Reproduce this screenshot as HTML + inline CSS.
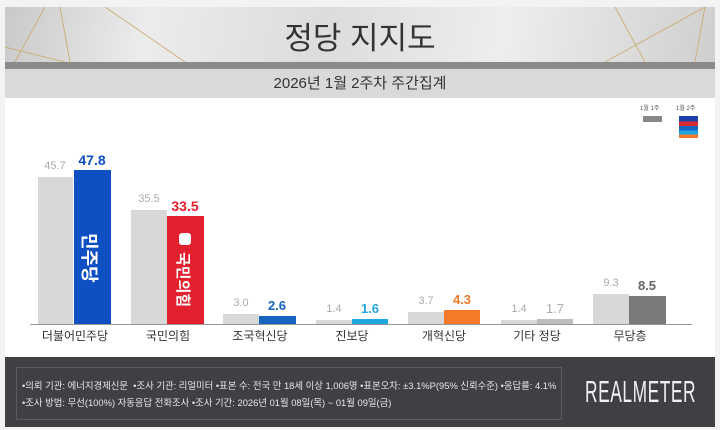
<!DOCTYPE html>
<html><head><meta charset="utf-8"><style>
body{margin:0;width:720px;height:430px;background:#f3f3f3;position:relative;overflow:hidden;font-family:"Liberation Sans","Noto Sans CJK KR",sans-serif}
.a{position:absolute}
.hdr{left:5px;top:7px;width:710px;height:55px;background:linear-gradient(100deg,#c9c9c9 0%,#ececec 20%,#dcdcdc 45%,#eeeeee 70%,#cfcfcf 100%);overflow:hidden}
.t{text-align:center}
.lbl{font-size:12px;color:#333;text-align:center;width:100px;top:327px}
.v{font-size:11px;text-align:center;width:40px}
.b{font-weight:bold;font-size:13px}
.rot{color:#fff;font-weight:bold;white-space:nowrap;transform-origin:0 0;transform:rotate(90deg)}
</style></head><body>
<div class="a" style="left:5px;top:62px;width:710px;height:295px;background:#fff"></div>
<div class="a hdr">
<svg width="710" height="55" style="position:absolute;left:0;top:0">
<g stroke="#c9a869" stroke-width="0.8" fill="none">
<line x1="10" y1="55" x2="40" y2="0"/><line x1="55" y1="0" x2="65" y2="55"/><line x1="0" y1="40" x2="60" y2="55"/>
<line x1="100" y1="0" x2="180" y2="55"/><line x1="610" y1="0" x2="640" y2="55"/><line x1="700" y1="0" x2="690" y2="55"/>
<line x1="600" y1="55" x2="700" y2="0"/>
</g></svg>
<div class="a t" style="left:0;width:710px;top:6px;font-size:31px;color:#333">정당 지지도</div>
</div>
<div class="a" style="left:5px;top:62px;width:710px;height:7px;background:#8a8a8a"></div>
<div class="a t" style="left:5px;top:69px;width:710px;height:29px;background:#d9d9d9;font-size:15px;line-height:29px;color:#333">2026년 1월 2주차 주간집계</div>

<div class="a" style="left:640px;top:103px;font-size:6px;color:#555">1월 1주</div>
<div class="a" style="left:676px;top:103px;font-size:6px;color:#555">1월 2주</div>
<div class="a" style="left:643px;top:116px;width:19px;height:6px;background:#888"></div>
<div class="a" style="left:679px;top:116px;width:19px;height:22px;background:linear-gradient(#1c3fa8 0 25%,#d92a33 25% 45%,#1565c0 45% 65%,#1ea6e0 65% 85%,#f47a2a 85%)"></div>

<div class="a" style="left:30px;top:324px;width:662px;height:1px;background:#999"></div>

<div class="a" style="left:38px;top:177px;width:35px;height:147px;background:#d8d8d8"></div>
<div class="a" style="left:74px;top:170px;width:37px;height:154px;background:#0f4fc4"></div>
<div class="a rot" style="left:103px;top:233px;font-size:18px">민주당</div>
<div class="a" style="left:131px;top:210px;width:36px;height:114px;background:#d8d8d8"></div>
<div class="a" style="left:167px;top:216px;width:37px;height:108px;background:#e3202d"></div>
<div class="a" style="left:179px;top:233px;width:12px;height:12px;background:#fff;border-radius:3px"></div>
<div class="a rot" style="left:194px;top:252px;font-size:15px">국민의힘</div>
<div class="a" style="left:223px;top:314px;width:36px;height:10px;background:#d8d8d8"></div>
<div class="a" style="left:259px;top:316px;width:37px;height:8px;background:#1565c0"></div>
<div class="a" style="left:316px;top:320px;width:36px;height:4px;background:#d8d8d8"></div>
<div class="a" style="left:352px;top:319px;width:36px;height:5px;background:#1ea6e0"></div>
<div class="a" style="left:408px;top:312px;width:36px;height:12px;background:#d8d8d8"></div>
<div class="a" style="left:444px;top:310px;width:36px;height:14px;background:#f47a2a"></div>
<div class="a" style="left:501px;top:320px;width:36px;height:4px;background:#d8d8d8"></div>
<div class="a" style="left:537px;top:319px;width:36px;height:5px;background:#bdbdbd"></div>
<div class="a" style="left:593px;top:294px;width:36px;height:30px;background:#d8d8d8"></div>
<div class="a" style="left:629px;top:296px;width:37px;height:28px;background:#7a7a7a"></div>

<div class="a v" style="left:35px;top:160px;color:#aaa">45.7</div>
<div class="a v b" style="left:72px;top:152px;color:#0f4fc4;font-size:14px">47.8</div>
<div class="a v" style="left:129px;top:193px;color:#aaa">35.5</div>
<div class="a v b" style="left:165px;top:198px;color:#e3202d;font-size:14px">33.5</div>
<div class="a v" style="left:221px;top:297px;color:#aaa">3.0</div>
<div class="a v b" style="left:257px;top:298px;color:#1565c0">2.6</div>
<div class="a v" style="left:314px;top:303px;color:#aaa">1.4</div>
<div class="a v b" style="left:350px;top:301px;color:#1ea6e0">1.6</div>
<div class="a v" style="left:406px;top:295px;color:#aaa">3.7</div>
<div class="a v b" style="left:442px;top:292px;color:#f47a2a">4.3</div>
<div class="a v" style="left:499px;top:303px;color:#aaa">1.4</div>
<div class="a v" style="left:535px;top:301px;color:#aaa;font-size:13px">1.7</div>
<div class="a v" style="left:591px;top:277px;color:#aaa">9.3</div>
<div class="a v b" style="left:627px;top:278px;color:#666">8.5</div>

<div class="a lbl" style="left:25px">더불어민주당</div>
<div class="a lbl" style="left:118px">국민의힘</div>
<div class="a lbl" style="left:210px">조국혁신당</div>
<div class="a lbl" style="left:302px">진보당</div>
<div class="a lbl" style="left:394px">개혁신당</div>
<div class="a lbl" style="left:487px">기타 정당</div>
<div class="a lbl" style="left:580px">무당층</div>

<div class="a" style="left:5px;top:357px;width:710px;height:70px;background:#3f4044"></div>
<div class="a" style="left:16px;top:367px;width:544px;height:51px;border:1px solid #5a5b60"></div>
<div class="a" style="left:22px;top:377px;font-size:9.4px;color:#e8e8e8;white-space:nowrap;line-height:17px">•의뢰 기관: 에너지경제신문 &nbsp;•조사 기관: 리얼미터 •표본 수: 전국 만 18세 이상 1,006명 •표본오차: ±3.1%P(95% 신뢰수준) •응답률: 4.1%<br>•조사 방법: 무선(100%) 자동응답 전화조사 •조사 기간: 2026년 01월 08일(목) ~ 01월 09일(금)</div>
<div class="a" style="left:585px;top:374px;font-size:31px;color:#f0f0f0;white-space:nowrap;transform-origin:0 0;transform:scaleX(0.56);letter-spacing:1px">REALMETER</div>
</body></html>
